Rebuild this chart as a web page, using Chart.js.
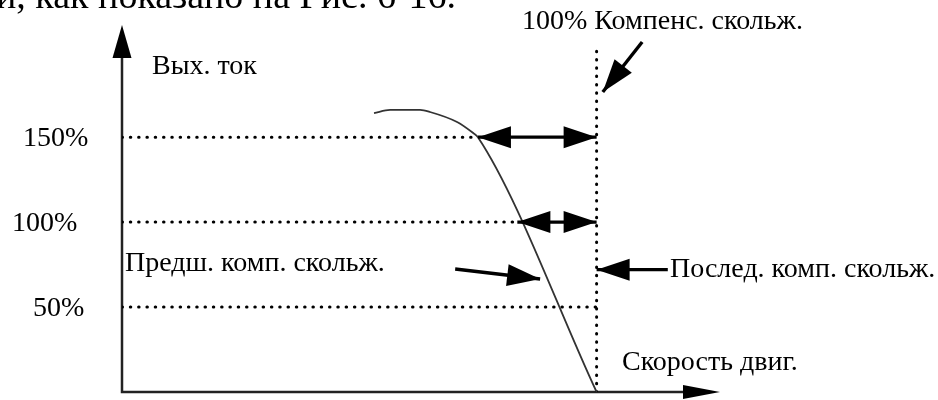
<!DOCTYPE html>
<html>
<head>
<meta charset="utf-8">
<script src="https://cdn.jsdelivr.net/npm/chart.js@4/dist/chart.umd.min.js"></script>
<style>
  html, body { margin: 0; padding: 0; background: #fff; }
  #wrap { width: 938px; height: 400px; }
</style>
</head>
<body>
<div id="wrap"><canvas id="myChart"></canvas></div>
<script>
// Кривая тока: скорость (% от точки 100% компенсации) / выходной ток (%)
const curveSpeed = [53.1, 56.5, 62.8, 64.9, 70.6, 74.0, 75.0, 100];
const curveCurrent = [164.2, 166.0, 166.0, 164.8, 158.9, 152.4, 150, 0];

// Уровни тока и где пунктир упирается в кривую
const levels = [150, 100, 50];
const levelLabels = ['150%', '100%', '50%'];
const levelEnds = [75, 83.3, 100];

// Вертикаль 100% компенсации скольжения
const slipX = 100;
const slipTop = 205;

// Пределы осей
const xMax = 126;
const yMax = 216;

// Стрелки: [x1, y1, x2, y2, двусторонняя]
const arrows = [
    [75, 150, 100, 150, true],
    [83.3, 100, 100, 100, true],
    [70.2, 72.4, 88.1, 66.5, false],
    [115, 72, 100, 72, false],
    [109.6, 206, 101.3, 176.6, false]
];

const font = '28px "Liberation Serif", "Times New Roman", serif';

function toPoints(xs, ys) {
    return xs.map((x, i) => ({x: x, y: ys[i]}));
}

const dotted = {
    borderColor: '#000',
    borderWidth: 3,
    borderDash: [0.5, 7.8],
    borderCapStyle: 'round',
    pointRadius: 0,
    tension: 0
};

const datasets = [{
    data: toPoints(curveSpeed, curveCurrent),
    borderColor: '#333',
    borderWidth: 1.8,
    pointRadius: 0,
    cubicInterpolationMode: 'monotone'
}];

levels.forEach((lv, i) => {
    datasets.push(Object.assign({
        data: [{x: 0, y: lv}, {x: levelEnds[i], y: lv}]
    }, dotted));
});

datasets.push(Object.assign({
    data: [{x: slipX, y: 0}, {x: slipX, y: slipTop}]
}, dotted));

function arrowHead(ctx, x1, y1, x2, y2, len, half) {
    const a = Math.atan2(y2 - y1, x2 - x1);
    ctx.beginPath();
    ctx.moveTo(x2, y2);
    ctx.lineTo(x2 - len * Math.cos(a) + half * Math.sin(a), y2 - len * Math.sin(a) - half * Math.cos(a));
    ctx.lineTo(x2 - len * Math.cos(a) - half * Math.sin(a), y2 - len * Math.sin(a) + half * Math.cos(a));
    ctx.closePath();
    ctx.fill();
}

// Оси со стрелками, стрелки-указатели и подписи
const decor = {
    id: 'decor',
    beforeDatasetsDraw(chart) {
        const {ctx, scales: {x, y}} = chart;
        const x0 = x.getPixelForValue(0), y0 = y.getPixelForValue(0);
        const xe = x.getPixelForValue(xMax), ye = y.getPixelForValue(yMax);
        ctx.save();
        ctx.strokeStyle = '#222';
        ctx.fillStyle = '#000';
        ctx.lineWidth = 2.5;
        ctx.beginPath();
        ctx.moveTo(x0, ye + 20);
        ctx.lineTo(x0, y0);
        ctx.lineTo(xe - 20, y0);
        ctx.stroke();
        arrowHead(ctx, x0, y0, x0, ye, 33, 9.5);
        arrowHead(ctx, x0, y0, xe, y0, 37, 7);
        ctx.restore();
    },
    afterDatasetsDraw(chart) {
        const {ctx, scales: {x, y}} = chart;
        ctx.save();
        ctx.strokeStyle = '#000';
        ctx.fillStyle = '#000';
        ctx.lineWidth = 3.4;
        arrows.forEach(([ax1, ay1, ax2, ay2, both]) => {
            const p1x = x.getPixelForValue(ax1), p1y = y.getPixelForValue(ay1);
            const p2x = x.getPixelForValue(ax2), p2y = y.getPixelForValue(ay2);
            ctx.beginPath();
            ctx.moveTo(p1x, p1y);
            ctx.lineTo(p2x, p2y);
            ctx.stroke();
            arrowHead(ctx, p1x, p1y, p2x, p2y, 33, 11);
            if (both) arrowHead(ctx, p2x, p2y, p1x, p1y, 33, 11);
        });

        ctx.font = font;
        ctx.textBaseline = 'middle';
        ctx.textAlign = 'left';
        const tickX = [23, 12, 33];
        levels.forEach((lv, i) => {
            ctx.fillText(levelLabels[i], tickX[i], y.getPixelForValue(lv) + 2);
        });
        ctx.fillText('Вых. ток', 152, 67);
        ctx.fillText('100% Компенс. скольж.', 522, 22);
        ctx.fillText('Предш. комп. скольж.', 125, 264);
        ctx.fillText('Послед. комп. скольж.', 670, 270);
        ctx.fillText('Скорость двиг.', 622, 363);

        ctx.font = '38px "Liberation Serif", "Times New Roman", serif';
        ctx.textBaseline = 'alphabetic';
        ctx.fillText('и, как показано на Рис. 6-16.', -4, 8);
        ctx.restore();
    }
};

const ctx = document.getElementById('myChart').getContext('2d');
const chart = new Chart(ctx, {
    type: 'line',
    data: {datasets: datasets},
    options: {
        responsive: true,
        maintainAspectRatio: false,
        animation: false,
        layout: {
            padding: {left: 122, right: 218, top: 25, bottom: 8}
        },
        plugins: {
            legend: {display: false},
            tooltip: {enabled: false}
        },
        scales: {
            x: {type: 'linear', min: 0, max: xMax, display: false},
            y: {type: 'linear', min: 0, max: yMax, display: false}
        }
    },
    plugins: [decor]
});
</script>
</body>
</html>
